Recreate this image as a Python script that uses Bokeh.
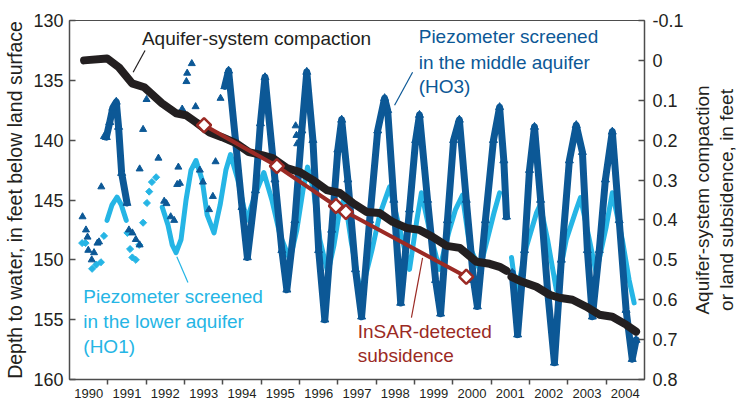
import math
from bokeh.plotting import figure
from bokeh.layouts import row
from bokeh.models import Range1d, LinearAxis, FixedTicker, NumeralTickFormatter, Label
from bokeh.embed import file_html
from bokeh.resources import INLINE

# ---------------- data ----------------
year_labels = list(range(1990, 2005))
depth_ticks = [130, 135, 140, 145, 150, 155, 160]
comp_ticks = [-0.1, 0.0, 0.1, 0.2, 0.3, 0.4, 0.5, 0.6, 0.7, 0.8]

# Piezometer HO3 (middle aquifer), depth to water (ft)
ho3_sparse_year = [1990.34, 1990.43, 1990.47, 1990.49, 1990.58, 1990.64, 1990.73, 1990.77, 1990.83, 1990.90,
                   1991.55, 1991.64, 1991.73, 1991.83, 1991.83, 1991.92, 1992.01, 1992.32, 1992.47, 1992.53,
                   1992.64, 1992.73, 1992.81, 1992.84, 1992.88, 1992.94, 1993.05, 1993.07, 1993.19, 1993.29,
                   1993.40, 1993.48, 1993.64, 1993.74, 1993.81, 1993.94, 1995.90, 1995.92, 1995.94]
ho3_sparse_depth = [146.4, 147.5, 148.1, 149.2, 150.0, 149.4, 148.6, 148.5, 143.9, 139.7,
                    147.5, 147.75, 148.3, 148.75, 142.4, 139.1, 136.6, 141.5, 145.1, 145.3,
                    146.4, 146.7, 143.7, 142.25, 143.6, 137.4, 135.1, 134.4, 133.6, 137.2,
                    142.5, 143.5, 145.8, 144.7, 141.8, 136.5, 138.8, 139.6, 140.3]
ho3_early_year = [1990.96, 1991.05, 1991.13, 1991.22, 1991.28, 1991.36, 1991.50]
ho3_early_depth = [139.75, 138.5, 137.3, 136.8, 138.9, 142.75, 145.25]
ho3_a_year = [1994.05, 1994.15, 1994.33, 1994.50, 1994.64, 1994.85, 1994.98, 1995.10, 1995.36, 1995.54,
              1995.67, 1995.88, 1996.06, 1996.19, 1996.35, 1996.50, 1996.66, 1996.84, 1997.00, 1997.10,
              1997.26, 1997.46, 1997.62, 1997.83, 1998.04, 1998.22, 1998.30, 1998.46, 1998.64, 1998.87,
              1999.03, 1999.13, 1999.34, 1999.55, 1999.68, 1999.86, 2000.02, 2000.17, 2000.35, 2000.54,
              2000.64, 2000.85, 2001.06, 2001.22, 2001.33, 2001.40]
ho3_a_depth = [135.5, 134.2, 140.0, 145.6, 149.8, 144.2, 138.6, 134.75, 143.3, 149.2,
               152.5, 146.7, 139.2, 134.3, 140.0, 149.2, 155.0, 147.5, 140.8, 138.3,
               143.3, 150.8, 154.75, 146.7, 139.2, 136.5, 137.5, 145.0, 153.6, 145.8,
               140.0, 137.9, 145.0, 151.7, 154.5, 146.7, 140.0, 138.3, 145.0, 151.7,
               153.9, 146.7, 140.0, 137.25, 141.7, 146.4]
ho3_b_year = [2001.55, 2001.69, 2001.87, 2002.00, 2002.13, 2002.29, 2002.47, 2002.65, 2002.83, 2003.04,
              2003.22, 2003.38, 2003.51, 2003.64, 2003.82, 2003.98, 2004.16, 2004.34, 2004.52, 2004.68, 2004.78]
ho3_b_depth = [151.1, 156.25, 149.2, 142.5, 138.9, 145.0, 152.5, 158.6, 150.0, 141.7,
               138.75, 141.0, 149.2, 154.75, 149.2, 143.3, 139.3, 146.7, 154.2, 158.3, 156.7]

# Piezometer HO1 (lower aquifer), depth to water (ft)
ho1_sparse_year = [1990.33, 1990.42, 1990.59, 1990.70, 1990.82, 1990.90,
                   1991.51, 1991.58, 1991.64, 1991.73, 1991.82, 1991.92, 1992.02, 1992.08, 1992.15, 1992.26]
ho1_sparse_depth = [148.6, 148.6, 150.75, 150.4, 150.2, 148.0,
                    147.75, 149.1, 149.8, 150.0, 148.75, 146.9, 145.25, 144.3, 143.5, 143.1]
ho1_early_year = [1990.98, 1991.11, 1991.24, 1991.35, 1991.48]
ho1_early_depth = [146.7, 145.4, 144.75, 145.4, 146.7]
ho1_a_year = [1992.42, 1992.57, 1992.68, 1992.78, 1992.91, 1993.04, 1993.17, 1993.30, 1993.46, 1993.59,
              1993.77, 1993.93, 1994.08, 1994.20, 1994.39, 1994.62, 1994.84, 1995.07, 1995.28, 1995.49,
              1995.75, 1995.93, 1996.09, 1996.21, 1996.37, 1996.53, 1996.74, 1996.90, 1997.05, 1997.18,
              1997.35, 1997.60, 1997.89, 1998.09, 1998.35, 1998.56, 1998.87, 1999.06, 1999.18, 1999.39,
              1999.65, 1999.91, 2000.07, 2000.25, 2000.44, 2000.70, 2000.90, 2001.08, 2001.22]
ho1_a_depth = [145.6, 147.1, 148.75, 149.4, 148.3, 145.0, 142.5, 141.7, 143.3, 146.25,
               147.75, 145.4, 142.5, 141.2, 143.3, 146.7, 144.6, 142.7, 145.0, 147.9,
               150.0, 147.5, 144.2, 142.25, 144.2, 148.3, 151.1, 148.75, 145.8, 144.8,
               148.5, 152.9, 149.2, 146.25, 143.9, 146.7, 150.8, 146.7, 144.4, 147.5,
               150.8, 147.5, 145.8, 144.6, 148.9, 150.8, 148.3, 146.0, 144.4]
ho1_b_year = [2001.53, 2001.66, 2001.92, 2002.18, 2002.28, 2002.47, 2002.70, 2002.96, 2003.22, 2003.33,
              2003.56, 2003.74, 2004.00, 2004.16, 2004.42, 2004.60, 2004.73]
ho1_b_depth = [149.8, 152.9, 148.9, 146.1, 145.4, 148.3, 152.5, 148.3, 145.8, 144.8,
               148.3, 151.1, 147.25, 144.4, 148.3, 151.7, 153.6]

# Aquifer-system compaction (ft)
comp_a_year = [1990.38, 1990.98, 1991.29, 1991.63, 1991.95, 1992.41, 1992.78, 1993.04, 1993.30, 1993.64,
               1993.98, 1994.34, 1994.68, 1995.02, 1995.30, 1995.67, 1996.01, 1996.35, 1996.71, 1997.05,
               1997.39, 1997.75, 1998.09, 1998.43, 1998.79, 1999.13, 1999.47, 1999.84, 2000.18, 2000.62,
               2000.96, 2001.22, 2001.40]
comp_a_value = [0.0, -0.005, 0.0175, 0.0575, 0.0675, 0.1075, 0.1325, 0.1375, 0.155, 0.18,
                0.1925, 0.2075, 0.23, 0.2375, 0.245, 0.27, 0.28, 0.30, 0.325, 0.3325,
                0.3575, 0.38, 0.3825, 0.405, 0.42, 0.425, 0.4425, 0.465, 0.47, 0.505,
                0.51, 0.5175, 0.5275]
comp_b_year = [2001.53, 2001.81, 2002.18, 2002.52, 2002.78, 2003.12, 2003.48, 2003.82, 2004.16, 2004.52, 2004.78]
comp_b_value = [0.5425, 0.555, 0.5675, 0.5875, 0.595, 0.60, 0.6175, 0.6375, 0.6425, 0.6625, 0.68]

# InSAR-detected subsidence (ft)
insar_year = [1993.51, 1995.41, 1996.95, 1997.21, 2000.35]
insar_value = [0.1625, 0.265, 0.365, 0.38, 0.5425]

right_title_lines = ["Aquifer-system compaction", "or land subsidence, in feet"]

# ---------------- style ----------------
FONT = "Liberation Sans"
DARK_BLUE = "#0c5896"
LIGHT_BLUE = "#25b5e5"
RED = "#9b2a24"
BLACK = "#231f20"
AXIS = "#4d4d4d"

p = figure(width=686, height=400, x_range=Range1d(1990, 2005), y_range=Range1d(160, 130),
           output_backend="svg", toolbar_location=None,
           min_border_left=69, min_border_right=40, min_border_top=20, min_border_bottom=20)
p.extra_y_ranges = {"comp": Range1d(0.8, -0.1)}
p.xgrid.visible = False
p.ygrid.visible = False
p.outline_line_color = AXIS
p.outline_line_width = 1
p.background_fill_color = "white"
p.border_fill_color = "white"

# bottom axis
xa = p.xaxis[0]
xa.ticker = FixedTicker(ticks=[y + 0.5 for y in year_labels], minor_ticks=year_labels[1:])
xa.major_label_overrides = {y + 0.5: str(y) for y in year_labels}
xa.major_tick_in = 0
xa.major_tick_out = 0
xa.minor_tick_in = 0
xa.minor_tick_out = 5
xa.minor_tick_line_color = AXIS
xa.minor_tick_line_width = 1.5
xa.axis_line_color = AXIS
xa.axis_line_width = 1.5
xa.major_label_standoff = 4
xa.major_label_text_font = FONT
xa.major_label_text_font_size = "13px"
xa.major_label_text_color = BLACK

# left axis
ya = p.yaxis[0]
ya.ticker = FixedTicker(ticks=depth_ticks)
ya.major_tick_in = 6
ya.major_tick_out = 0
ya.minor_tick_line_color = None
ya.major_tick_line_color = AXIS
ya.major_tick_line_width = 1.5
ya.axis_line_color = AXIS
ya.axis_line_width = 1.5
ya.major_label_standoff = 6
ya.major_label_text_font = FONT
ya.major_label_text_font_size = "18px"
ya.major_label_text_color = BLACK
ya.axis_label = "Depth to water, in feet below land surface"
ya.axis_label_standoff = 4
ya.axis_label_text_font = FONT
ya.axis_label_text_font_size = "19.5px"
ya.axis_label_text_font_style = "normal"
ya.axis_label_text_color = BLACK

# right axis
ra = LinearAxis(y_range_name="comp", ticker=FixedTicker(ticks=comp_ticks),
                formatter=NumeralTickFormatter(format="0.[0]"))
ra.major_tick_in = 6
ra.major_tick_out = 0
ra.minor_tick_line_color = None
ra.major_tick_line_color = AXIS
ra.major_tick_line_width = 1.5
ra.axis_line_color = AXIS
ra.axis_line_width = 1.5
ra.major_label_standoff = 8
ra.major_label_text_font = FONT
ra.major_label_text_font_size = "18px"
ra.major_label_text_color = BLACK
p.add_layout(ra, "right")

# ---------------- glyphs ----------------
# lower aquifer HO1
for xs, ys in [(ho1_early_year, ho1_early_depth), (ho1_a_year, ho1_a_depth), (ho1_b_year, ho1_b_depth)]:
    p.line(xs, ys, line_width=5, color=LIGHT_BLUE, line_join="round", line_cap="round")
p.scatter(ho1_sparse_year, ho1_sparse_depth, marker="square", angle=math.pi / 4, size=5,
          color=LIGHT_BLUE)

# middle aquifer HO3
for xs, ys in [(ho3_early_year, ho3_early_depth), (ho3_a_year, ho3_a_depth), (ho3_b_year, ho3_b_depth)]:
    p.line(xs, ys, line_width=7, color=DARK_BLUE, line_join="round", line_cap="round")
    p.scatter(xs, ys, marker="triangle", size=8, color=DARK_BLUE)
p.scatter(ho3_sparse_year, ho3_sparse_depth, marker="triangle", size=7, color=DARK_BLUE)

# compaction
for xs, ys in [(comp_a_year, comp_a_value), (comp_b_year, comp_b_value)]:
    p.line(xs, ys, y_range_name="comp", line_width=8, color=BLACK, line_join="round", line_cap="round")

# InSAR
p.line(insar_year, insar_value, y_range_name="comp", line_width=4, color=RED)
p.scatter(insar_year, insar_value, y_range_name="comp", marker="square", angle=math.pi / 4, size=10,
          fill_color="white", line_color=RED, line_width=2.5)

# ---------------- annotations ----------------
def txt(fig, x, y, s, color, size="19px", **kw):
    fig.add_layout(Label(x=x, y=y, text=s, text_color=color, text_font=FONT, text_font_size=size, **kw))

txt(p, 1991.89, 132.36, "Aquifer-system compaction", BLACK)
txt(p, 1999.11, 132.2, "Piezometer screened", DARK_BLUE)
txt(p, 1999.11, 134.4, "in the middle aquifer", DARK_BLUE)
txt(p, 1999.11, 136.4, "(HO3)", DARK_BLUE)
txt(p, 1990.36, 153.9, "Piezometer screened", LIGHT_BLUE)
txt(p, 1990.36, 156.0, "in the lower aquifer", LIGHT_BLUE)
txt(p, 1990.36, 158.1, "(HO1)", LIGHT_BLUE)
txt(p, 1997.52, 156.9, "InSAR-detected", RED)
txt(p, 1997.52, 158.9, "subsidence", RED)

p.segment([1991.97], [132.5], [1991.66], [134.33], line_color=BLACK, line_width=1.2)
p.segment([1998.95], [134.33], [1998.48], [137.08], line_color=DARK_BLUE, line_width=1.2)
p.segment([1992.80], [149.75], [1993.09], [151.9], line_color=LIGHT_BLUE, line_width=1.2)
p.segment([1999.21], [149.83], [1998.92], [154.83], line_color=RED, line_width=1.2)

# right-hand title panel (second figure, text rotated to read upward)
p2 = figure(width=50, height=400, x_range=Range1d(0, 50), y_range=Range1d(0, 400),
            output_backend="svg", toolbar_location=None, x_axis_type=None, y_axis_type=None,
            min_border_left=0, min_border_right=0, min_border_top=0, min_border_bottom=0)
p2.xgrid.visible = False
p2.ygrid.visible = False
p2.outline_line_color = None
p2.background_fill_color = "white"
p2.border_fill_color = "white"
txt(p2, 15.5, 200, right_title_lines[0], BLACK, angle=math.pi / 2, text_align="center", text_baseline="middle")
txt(p2, 40.0, 200, right_title_lines[1], BLACK, angle=math.pi / 2, text_align="center", text_baseline="middle")

layout = row(p, p2, spacing=0)
open("out.html", "w").write(file_html(layout, INLINE))
